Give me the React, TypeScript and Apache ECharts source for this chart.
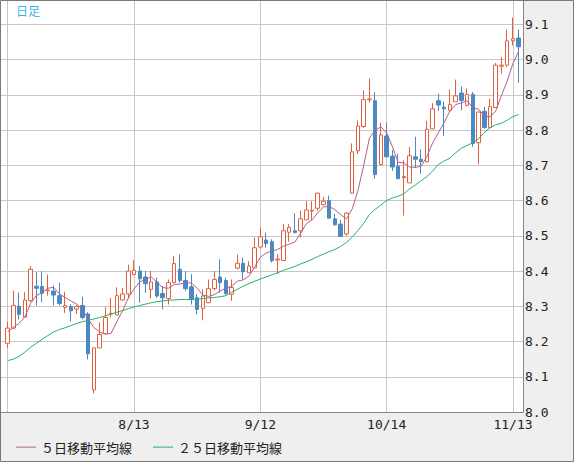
import React, { useEffect, useRef } from 'react';
import * as echarts from 'echarts';

// Daily candles
const opens = [
  8.195, 8.238, 8.300, 8.269, 8.316, 8.357, 8.356, 8.344, 8.343, 8.330,
  8.297, 8.299, 8.292, 8.302, 8.278, 8.063, 8.182, 8.222, 8.278, 8.275,
  8.318, 8.335, 8.390, 8.400, 8.383, 8.348, 8.369, 8.336, 8.322, 8.367,
  8.405, 8.373, 8.355, 8.324, 8.294, 8.310, 8.350, 8.383, 8.373, 8.334,
  8.408, 8.422, 8.395, 8.409, 8.468, 8.488, 8.483, 8.431, 8.430, 8.510,
  8.514, 8.514, 8.545, 8.570, 8.578, 8.588, 8.600, 8.548, 8.533, 8.505,
  8.621, 8.741, 8.810, 8.886, 8.883, 8.702, 8.783, 8.726, 8.697, 8.665,
  8.650, 8.724, 8.717, 8.710, 8.803, 8.883, 8.865, 8.856, 8.880, 8.905,
  8.870, 8.901, 8.764, 8.853, 8.807, 8.864, 8.981, 8.984, 9.053, 9.061,
];
const closes = [
  8.238, 8.302, 8.277, 8.318, 8.405, 8.351, 8.337, 8.346, 8.332, 8.308,
  8.302, 8.287, 8.299, 8.268, 8.165, 8.182, 8.220, 8.268, 8.280, 8.330,
  8.335, 8.400, 8.402, 8.378, 8.364, 8.369, 8.329, 8.324, 8.367, 8.421,
  8.373, 8.350, 8.319, 8.291, 8.329, 8.350, 8.376, 8.367, 8.336, 8.353,
  8.422, 8.398, 8.414, 8.466, 8.497, 8.478, 8.429, 8.434, 8.514, 8.524,
  8.509, 8.548, 8.573, 8.572, 8.621, 8.598, 8.550, 8.531, 8.498, 8.564,
  8.738, 8.811, 8.886, 8.888, 8.674, 8.786, 8.724, 8.695, 8.662, 8.668,
  8.727, 8.717, 8.710, 8.802, 8.860, 8.871, 8.860, 8.872, 8.897, 8.884,
  8.901, 8.762, 8.851, 8.807, 8.866, 8.984, 8.984, 9.053, 9.059, 9.036,
];
const lows = [
  8.182, 8.236, 8.262, 8.267, 8.312, 8.302, 8.311, 8.330, 8.302, 8.302,
  8.281, 8.257, 8.278, 8.263, 8.149, 8.053, 8.182, 8.222, 8.268, 8.275,
  8.316, 8.321, 8.388, 8.310, 8.338, 8.322, 8.324, 8.291, 8.305, 8.365,
  8.367, 8.343, 8.305, 8.277, 8.260, 8.309, 8.345, 8.338, 8.332, 8.315,
  8.405, 8.376, 8.395, 8.409, 8.464, 8.466, 8.424, 8.392, 8.430, 8.483,
  8.507, 8.495, 8.545, 8.545, 8.571, 8.586, 8.549, 8.529, 8.497, 8.500,
  8.619, 8.732, 8.805, 8.878, 8.662, 8.700, 8.722, 8.684, 8.660, 8.557,
  8.650, 8.692, 8.676, 8.708, 8.802, 8.854, 8.783, 8.851, 8.880, 8.856,
  8.867, 8.752, 8.703, 8.804, 8.804, 8.864, 8.960, 8.979, 9.040, 8.934,
];
const highs = [
  8.256, 8.344, 8.339, 8.340, 8.414, 8.397, 8.399, 8.390, 8.359, 8.367,
  8.341, 8.306, 8.304, 8.327, 8.283, 8.182, 8.254, 8.297, 8.323, 8.354,
  8.352, 8.418, 8.431, 8.414, 8.400, 8.400, 8.381, 8.357, 8.376, 8.443,
  8.447, 8.400, 8.391, 8.334, 8.348, 8.376, 8.400, 8.433, 8.381, 8.376,
  8.447, 8.438, 8.428, 8.495, 8.523, 8.509, 8.490, 8.448, 8.533, 8.533,
  8.564, 8.571, 8.598, 8.598, 8.622, 8.610, 8.614, 8.562, 8.545, 8.567,
  8.762, 8.827, 8.912, 8.946, 8.908, 8.821, 8.821, 8.743, 8.733, 8.714,
  8.752, 8.781, 8.745, 8.826, 8.876, 8.903, 8.881, 8.915, 8.943, 8.924,
  8.918, 8.908, 8.852, 8.866, 8.889, 8.990, 9.007, 9.085, 9.119, 9.085,
];
// 5-day and 25-day moving averages
const ma5 = [
  8.228, 8.240, 8.252, 8.270, 8.308, 8.331, 8.338, 8.351, 8.354, 8.335,
  8.325, 8.315, 8.306, 8.293, 8.264, 8.240, 8.227, 8.221, 8.223, 8.256,
  8.287, 8.323, 8.349, 8.369, 8.376, 8.383, 8.368, 8.353, 8.351, 8.362,
  8.363, 8.367, 8.366, 8.351, 8.332, 8.328, 8.333, 8.343, 8.352, 8.356,
  8.371, 8.375, 8.385, 8.411, 8.439, 8.451, 8.457, 8.461, 8.470, 8.476,
  8.482, 8.506, 8.534, 8.545, 8.565, 8.582, 8.583, 8.574, 8.560, 8.548,
  8.576, 8.628, 8.699, 8.777, 8.799, 8.809, 8.792, 8.753, 8.708, 8.707,
  8.695, 8.694, 8.697, 8.725, 8.763, 8.792, 8.821, 8.853, 8.872, 8.877,
  8.883, 8.863, 8.859, 8.841, 8.837, 8.854, 8.898, 8.939, 8.989, 9.023,
];
const ma25 = [
  8.146, 8.150, 8.158, 8.170, 8.184, 8.195, 8.206, 8.217, 8.227, 8.234,
  8.239, 8.245, 8.251, 8.256, 8.260, 8.264, 8.268, 8.273, 8.278, 8.283,
  8.288, 8.293, 8.298, 8.302, 8.306, 8.310, 8.313, 8.315, 8.317, 8.318,
  8.319, 8.319, 8.319, 8.320, 8.322, 8.324, 8.325, 8.327, 8.330, 8.340,
  8.348, 8.357, 8.364, 8.371, 8.377, 8.383, 8.389, 8.395, 8.402, 8.407,
  8.413, 8.420, 8.426, 8.433, 8.441, 8.448, 8.455, 8.461, 8.470, 8.481,
  8.496, 8.515, 8.535, 8.560, 8.575, 8.587, 8.600, 8.607, 8.612, 8.619,
  8.633, 8.644, 8.656, 8.668, 8.683, 8.702, 8.712, 8.720, 8.735, 8.748,
  8.756, 8.764, 8.775, 8.793, 8.806, 8.815, 8.819, 8.828, 8.838, 8.844,
];

const tickLabels = ['8/13', '9/12', '10/14', '11/13'];
const gridEvery = 22;
const firstDate = [2019, 6, 12]; // 2019-07-12, weekdays only
const yMin = 8.0;
const yMax = 9.166;
const yStep = 0.1;
const seriesNames = ['５日移動平均線', '２５日移動平均線'];

function buildDates(count: number): string[] {
  const out: string[] = [];
  const d = new Date(Date.UTC(firstDate[0], firstDate[1], firstDate[2]));
  while (out.length < count) {
    const wd = d.getUTCDay();
    if (wd !== 0 && wd !== 6) out.push(`${d.getUTCMonth() + 1}/${d.getUTCDate()}`);
    d.setUTCDate(d.getUTCDate() + 1);
  }
  return out;
}

export default function App() {
  const ref = useRef<HTMLDivElement>(null);
  useEffect(() => {
    document.body.style.margin = '0';
    if (!ref.current) return;
    const chart = echarts.init(ref.current, undefined, { renderer: 'svg' });
    const dates = buildDates(opens.length);
    const candles = opens.map((o, i) => [o, closes[i], lows[i], highs[i]]);
    const mono = 'DejaVu Sans Mono';
    const jp = 'Noto Sans CJK JP';
    const option: any = {
      animation: false,
      backgroundColor: '#efefef',
      title: {
        text: '日足',
        left: 16,
        top: 4,
        padding: 0,
        textStyle: { fontSize: 12, fontWeight: 'normal', color: '#3ab5e8', fontFamily: jp },
      },
      legend: {
        left: 16,
        top: 440.6,
        padding: 0,
        itemWidth: 20,
        itemHeight: 1,
        itemGap: 21,
        selectedMode: false,
        icon: 'rect',
        data: seriesNames,
        textStyle: { fontSize: 13, color: '#222', fontFamily: jp },
      },
      grid: [
        { left: 1, top: 1, width: 522, height: 411, show: true, backgroundColor: '#ffffff', borderWidth: 0 },
        { left: 7.7, top: 1, width: 511, height: 411, show: false },
      ],
      xAxis: [
        {
          gridIndex: 0, type: 'value', min: 0, max: 1,
          axisLine: { show: true, onZero: false, lineStyle: { color: '#858585', width: 1 } },
          axisTick: { show: false }, axisLabel: { show: false }, splitLine: { show: false },
        },
        {
          gridIndex: 1, type: 'category', data: dates, boundaryGap: false,
          axisLine: { show: false }, axisTick: { show: false },
          axisLabel: {
            interval: (_i: number, v: string) => tickLabels.includes(v),
            margin: 6, fontSize: 13, color: '#222', fontFamily: mono,
          },
          splitLine: {
            show: true,
            interval: (i: number) => i % gridEvery === 0,
            lineStyle: { color: '#c8c8c8', width: 1 },
          },
        },
      ],
      yAxis: [
        {
          gridIndex: 0, type: 'value', position: 'right', min: yMin, max: yMax, interval: yStep,
          axisLine: { show: true, onZero: false, lineStyle: { color: '#858585', width: 1 } },
          axisTick: { show: false },
          axisLabel: {
            margin: 2, fontSize: 13, color: '#222', fontFamily: mono, showMaxLabel: false,
            formatter: (v: number) => v.toFixed(1),
          },
          splitLine: { show: true, showMaxLine: false, lineStyle: { color: '#c8c8c8', width: 1 } },
        },
        { gridIndex: 1, type: 'value', min: yMin, max: yMax, show: false },
      ],
      series: [
        {
          type: 'candlestick',
          xAxisIndex: 1, yAxisIndex: 1,
          data: candles,
          barWidth: 4,
          clip: false,
          itemStyle: {
            color: '#ffffff', color0: '#4a89c2',
            borderColor: '#e2613c', borderColor0: '#4a89c2', borderWidth: 1,
          },
        },
        {
          name: seriesNames[0], type: 'line', xAxisIndex: 1, yAxisIndex: 1,
          data: ma5, symbol: 'none', showSymbol: false, smooth: false,
          lineStyle: { color: '#b65d8b', width: 1 }, itemStyle: { color: '#b65d8b' },
        },
        {
          name: seriesNames[1], type: 'line', xAxisIndex: 1, yAxisIndex: 1,
          data: ma25, symbol: 'none', showSymbol: false, smooth: false,
          lineStyle: { color: '#2bae6c', width: 1 }, itemStyle: { color: '#2bae6c' },
        },
      ],
      graphic: [
        {
          type: 'rect', silent: true, z: 100,
          shape: { x: 0.5, y: 0.5, width: 573, height: 461 },
          style: { fill: 'none', stroke: '#7a7a7a', lineWidth: 1 },
        },
      ],
    };
    chart.setOption(option);
    return () => chart.dispose();
  }, []);
  return <div ref={ref} style={{ width: 574, height: 462 }} />;
}
